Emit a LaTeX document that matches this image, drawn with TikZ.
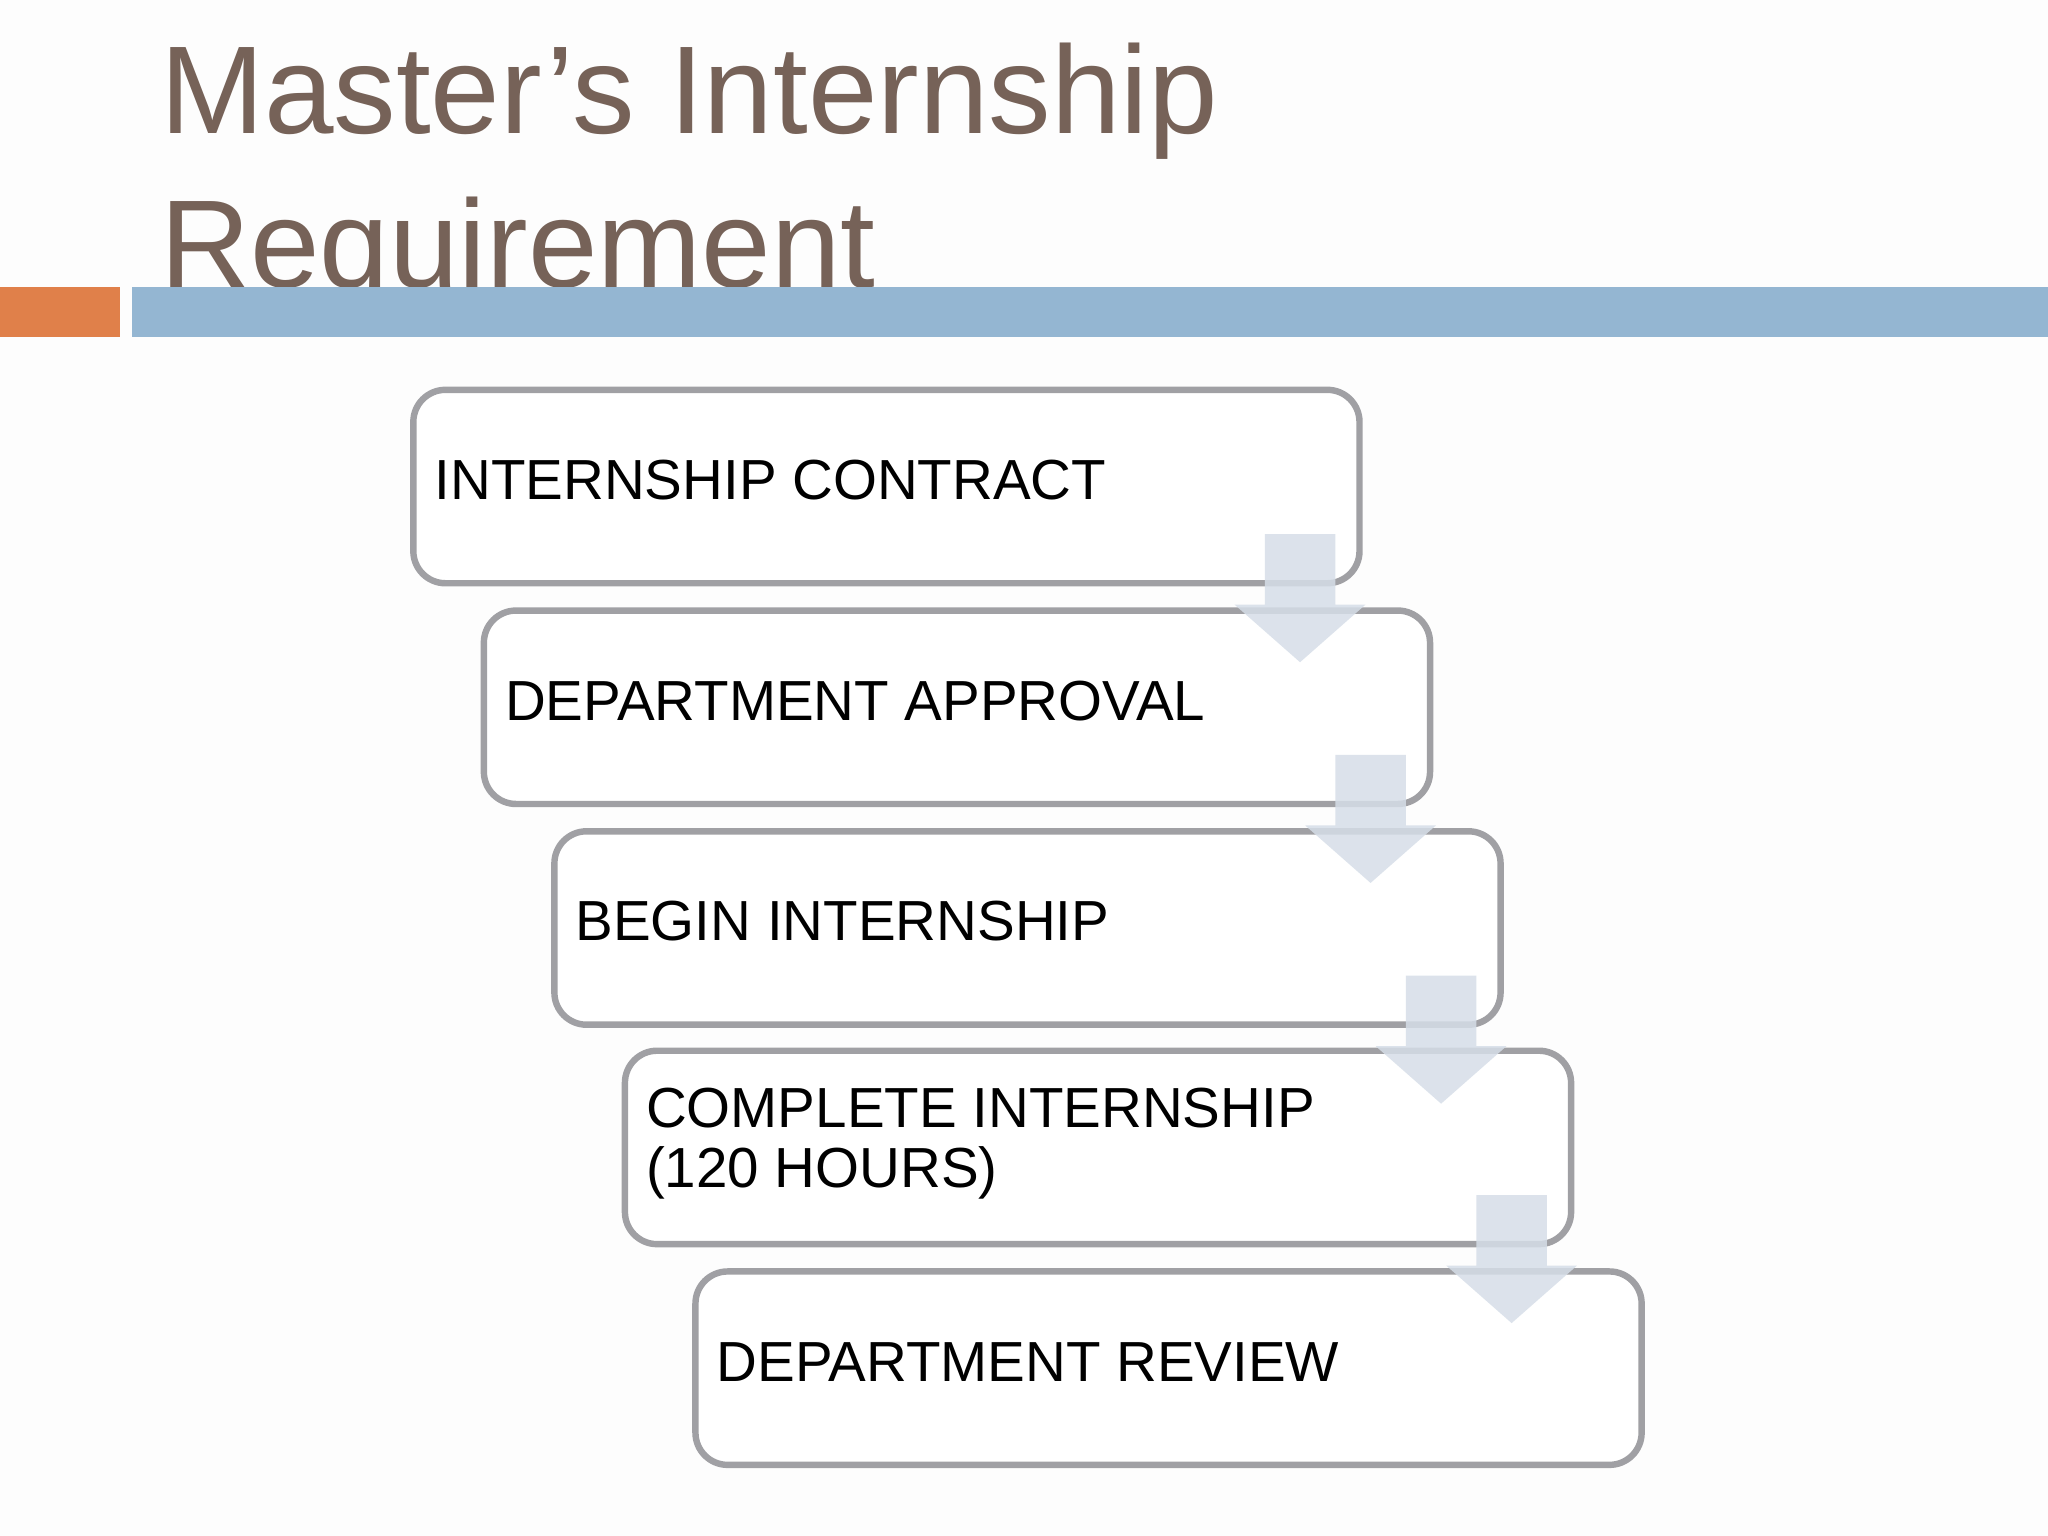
\documentclass[tikz,border=0pt]{standalone}
\usepackage{fontspec}
\setmainfont{Liberation Sans}
\usetikzlibrary{calc}
\definecolor{titlec}{RGB}{118,98,88}
\definecolor{orangec}{RGB}{224,128,74}
\definecolor{bluec}{RGB}{148,182,210}
\definecolor{boxline}{RGB}{160,160,164}
\definecolor{arrowc}{RGB}{214,222,232}
\tikzset{
  stepbox/.style={draw=boxline, line width=1.4pt, rounded corners=7pt, fill=white,
    minimum width=7.24cm, minimum height=1.48cm, anchor=north west},
  steptext/.style={anchor=west, font=\fontsize{12.3}{14}\selectfont, align=left, inner sep=0pt},
  flowarrow/.style={fill=arrowc, fill opacity=0.85, draw=none}
}
\begin{document}
\begin{tikzpicture}[x=0.01cm,y=-0.01cm]
\useasboundingbox[fill={rgb,255:red,253;green,253;blue,253}] (0,0) rectangle (1568,1176);
\node[anchor=north west, text=titlec, font=\fontsize{27.2}{33.5}\selectfont, align=left, inner sep=0pt] (title) at (122,32) {Master’s Internship\\Requirement};
\fill[orangec] (0,220) rectangle (92,258);
\fill[bluec] (101,220) rectangle (1568,258);
\node[stepbox] (b1) at (314,296) {};
\node[stepbox] (b2) at (368,465) {};
\node[stepbox] (b3) at (422,634) {};
\node[stepbox] (b4) at (476,802) {};
\node[stepbox] (b5) at (530,971) {};
\node[steptext] (t1) at ($(b1.west)+(18,-5)$) {INTERNSHIP CONTRACT};
\node[steptext] (t2) at ($(b2.west)+(18,-5)$) {DEPARTMENT APPROVAL};
\node[steptext] (t3) at ($(b3.west)+(18,-5)$) {BEGIN INTERNSHIP};
\node[steptext] (t4) at ($(b4.west)+(18,-3)$) {COMPLETE INTERNSHIP\\[-1pt](120 HOURS)};
\node[steptext] (t5) at ($(b5.west)+(18,-5)$) {DEPARTMENT REVIEW};
\foreach \b in {b1,b2,b3,b4}{
  \path ($(\b.south east)+(-48,-40)$) coordinate (a);
  \fill[flowarrow] ($(a)+(-27,0)$) -- ($(a)+(27,0)$) -- ($(a)+(27,54)$) -- ($(a)+(50,54)$)
     -- ($(a)+(0,98)$) -- ($(a)+(-50,54)$) -- ($(a)+(-27,54)$) -- cycle;
}
\end{tikzpicture}
\end{document}
